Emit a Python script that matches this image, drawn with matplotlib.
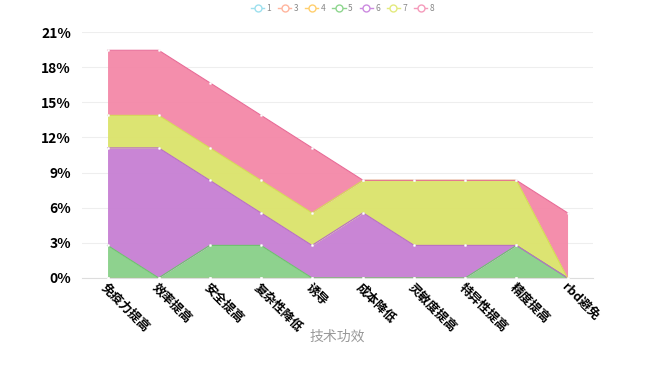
import matplotlib.pyplot as plt
import numpy as np
from matplotlib.ticker import FuncFormatter, MultipleLocator

plt.rcParams['font.family'] = ['Noto Sans CJK SC', 'DejaVu Sans']

categories = ['免疫力提高', '效率提高', '安全提高', '复杂性降低', '诱导',
              '成本降低', '灵敏度提高', '特异性提高', '精度提高', 'rbd避免']
series_names = ['1', '3', '4', '5', '6', '7', '8']
# share of each category, percent
s1 = [0, 0, 0, 0, 0, 0, 0, 0, 0, 0]
s3 = [0, 0, 0, 0, 0, 0, 0, 0, 0, 0]
s4 = [0, 0, 0, 0, 0, 0, 0, 0, 0, 0]
s5 = [2.78, 0, 2.78, 2.78, 0, 0, 0, 0, 2.78, 0]
s6 = [8.33, 11.11, 5.56, 2.78, 2.78, 5.56, 2.78, 2.78, 0, 0]
s7 = [2.78, 2.78, 2.78, 2.78, 2.78, 2.78, 5.56, 5.56, 5.56, 0]
s8 = [5.56, 5.56, 5.56, 5.56, 5.56, 0, 0, 0, 0, 5.56]

fill_colors = ['#6fd0e4', '#ff9c7a', '#ffc44e', '#88d088', '#c67fd3', '#dbe36a', '#f488a8']
line_colors = ['#9ee0ee', '#ffb59e', '#ffcf6e', '#8fd68f', '#cc8be0', '#e3ea7e', '#f59bbb']
edge_colors = ['#5bc0d8', '#ff8a66', '#f5c04a', '#6cc46c', '#b86cc8', '#d4dc55', '#e86a96']

data = [s1, s3, s4, s5, s6, s7, s8]

fig = plt.figure(figsize=(6.59, 3.92), dpi=100)
ax = fig.add_axes([0.1244, 0.291, 0.7756, 0.627])

x = np.arange(len(categories))
base = np.zeros(len(categories))
tops = []
for vals, fc in zip(data, fill_colors):
    top = base + np.array(vals)
    ax.fill_between(x, base, top, color=fc, alpha=0.95, linewidth=0)
    tops.append(top)
    base = top

for i, (top, ec) in enumerate(zip(tops, edge_colors)):
    ax.plot(x, top, color=ec, linewidth=0.8, marker='o', markersize=1.6,
            markerfacecolor='white', markeredgecolor='#f4f4f4', markeredgewidth=0.3,
            zorder=3 if i != 2 else 4)

ax.set_xlim(-0.5, len(categories) - 0.5)
ax.set_ylim(0, 21)
ax.yaxis.set_major_locator(MultipleLocator(3))
ax.yaxis.set_major_formatter(FuncFormatter(lambda v, p: '%d%%' % v))
ax.grid(axis='y', color='#eeeeee', linewidth=0.8)
ax.set_axisbelow(True)
for s in ['top', 'right', 'left']:
    ax.spines[s].set_visible(False)
ax.spines['bottom'].set_color('#dddddd')
ax.tick_params(axis='y', length=0, labelsize=10, pad=8)
ax.tick_params(axis='x', length=0, labelsize=9, pad=2)
for lab in ax.get_yticklabels():
    lab.set_fontweight('bold')

ax.set_xticks(x)
ax.set_xticklabels(categories, rotation=-45, ha='left', va='top',
                   rotation_mode='anchor', fontweight='bold')
ax.set_xlabel('技术功效', color='#999999', fontsize=10, labelpad=-3)

handles = []
for name, lc in zip(series_names, line_colors):
    h, = ax.plot([], [], color=lc, marker='o', markersize=5, markerfacecolor='white',
                 markeredgecolor=lc, markeredgewidth=1.0, linewidth=1.0, label=name)
    handles.append(h)
fig.legend(handles=handles, loc='upper center', bbox_to_anchor=(0.52, 1.01),
           ncol=len(handles), frameon=False, fontsize=6, labelcolor='#888888',
           handlelength=1.6, handletextpad=0.3, columnspacing=0.8)

plt.savefig('out.png', dpi=100)
